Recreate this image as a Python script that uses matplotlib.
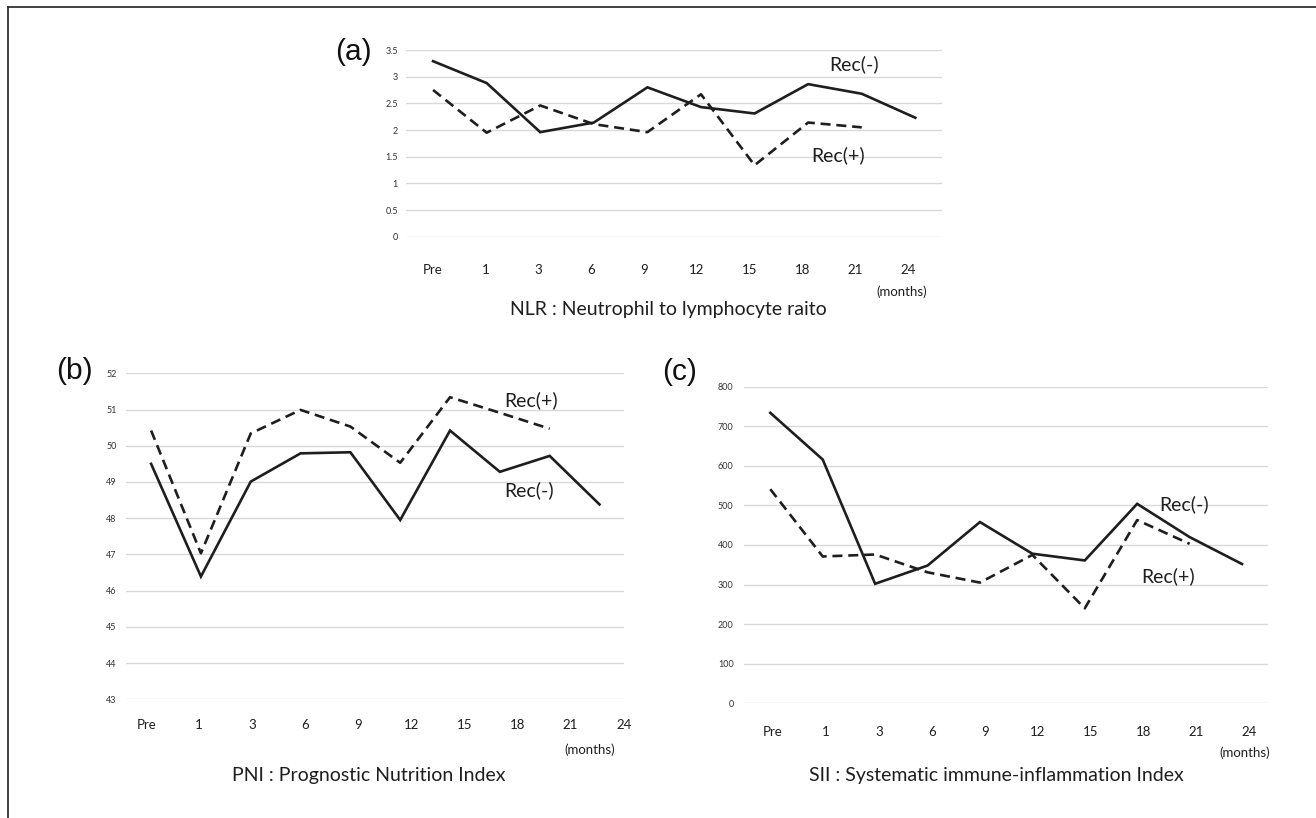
import numpy as np
import matplotlib
matplotlib.use("Agg")
import matplotlib.pyplot as plt
from matplotlib.lines import Line2D

W, H = 1316, 818

# ---------------- data ----------------
months = ["Pre", "1", "3", "6", "9", "12", "15", "18", "21", "24"]

nlr_rec_neg = [3.29, 2.88, 1.96, 2.14, 2.80, 2.43, 2.31, 2.86, 2.68, 2.23]
nlr_rec_pos = [2.75, 1.95, 2.46, 2.11, 1.96, 2.67, 1.34, 2.14, 2.05]

pni_rec_neg = [49.50, 46.39, 49.01, 49.79, 49.82, 47.95, 50.42, 49.28, 49.72, 48.38]
pni_rec_pos = [50.42, 47.03, 50.34, 50.99, 50.53, 49.53, 51.34, 50.91, 50.47]

sii_rec_neg = [734, 616, 302, 348, 458, 378, 361, 504, 420, 352]
sii_rec_pos = [541, 371, 376, 331, 305, 375, 240, 463, 403]

nlr_yticks = [0, 0.5, 1, 1.5, 2, 2.5, 3, 3.5]
nlr_ylabels = ["0", "0.5", "1", "1.5", "2", "2.5", "3", "3.5"]
pni_yticks = [43, 44, 45, 46, 47, 48, 49, 50, 51, 52]
sii_yticks = [0, 100, 200, 300, 400, 500, 600, 700, 800]

titles = ["NLR : Neutrophil to lymphocyte raito",
          "PNI : Prognostic Nutrition Index",
          "SII : Systematic immune-inflammation Index"]
panel_tags = ["(a)", "(b)", "(c)"]

# ---------------- style ----------------
LINE_C = "#1e1e1e"
GRID_C = "#d9d9d9"
TXT_C = "#1e1e1e"
FONT = ["Lato", "DejaVu Sans"]
TAGFONT = ["Liberation Sans", "DejaVu Sans"]

fig = plt.figure(figsize=(W / 100, H / 100), dpi=100)
fig.patch.set_facecolor("white")


def fx(px):
    return px / W


def fy(py):
    return 1 - py / H


def make_ax(left, top, right, bottom):
    return fig.add_axes([fx(left), fy(bottom), fx(right) - fx(left), fy(top) - fy(bottom)])


def style_ax(ax, yticks, ylabels, ylim, xt_off, xt_scale, xpad, ypad):
    n = len(months)
    ax.set_xlim(-0.5, n - 0.5)
    ax.set_ylim(*ylim)
    ax.set_yticks(yticks)
    ax.set_yticklabels(ylabels, fontsize=6.5, family=FONT, color="#333333")
    ax.set_xticks(xt_off + xt_scale * np.arange(n))
    ax.set_xticklabels(months, fontsize=9.5, family=FONT, color=TXT_C)
    ax.tick_params(axis="both", length=0)
    ax.tick_params(axis="x", pad=xpad)
    ax.tick_params(axis="y", pad=ypad)
    for s in ax.spines.values():
        s.set_visible(False)
    ax.grid(axis="y", color=GRID_C, linewidth=1.0)
    ax.grid(axis="x", visible=False)
    ax.set_axisbelow(True)
    ax.patch.set_alpha(0)


def draw_lines(ax, neg, pos):
    ax.plot(np.arange(len(neg)), neg, color=LINE_C, lw=1.9,
            solid_joinstyle="miter", clip_on=False, zorder=3)
    ax.plot(np.arange(len(pos)), pos, color=LINE_C, lw=1.9,
            linestyle=(0, (3.8, 2.2)), clip_on=False, zorder=3)


REC_FS = 14

# ---------------- (a) NLR ----------------
ax_a = make_ax(406.3, 50.0, 942.1, 236.7)
style_ax(ax_a, nlr_yticks, nlr_ylabels, (0, 3.5), 0.0, 0.985, 20, 6)
draw_lines(ax_a, nlr_rec_neg, nlr_rec_pos)
ax_a.text(7.85, 3.23, "Rec(-)", fontsize=REC_FS, family=FONT, color=TXT_C, ha="center", va="center")
ax_a.text(7.55, 1.52, "Rec(+)", fontsize=REC_FS, family=FONT, color=TXT_C, ha="center", va="center")

# ---------------- (b) PNI ----------------
ax_b = make_ax(126.2, 373.3, 624.4, 699.3)
style_ax(ax_b, pni_yticks, [str(v) for v in pni_yticks], (43, 52), -0.1, 1.065, 14, 7)
draw_lines(ax_b, pni_rec_neg, pni_rec_pos)
ax_b.text(7.63, 51.26, "Rec(+)", fontsize=REC_FS, family=FONT, color=TXT_C, ha="center", va="center")
ax_b.text(7.59, 48.78, "Rec(-)", fontsize=REC_FS, family=FONT, color=TXT_C, ha="center", va="center")

# ---------------- (c) SII ----------------
ax_c = make_ax(744.1, 386.7, 1268.2, 703.3)
style_ax(ax_c, sii_yticks, [str(v) for v in sii_yticks], (0, 800), 0.05, 1.01, 16.7, 7.6)
draw_lines(ax_c, sii_rec_neg, sii_rec_pos)
ax_c.text(7.89, 503.6, "Rec(-)", fontsize=REC_FS, family=FONT, color=TXT_C, ha="center", va="center")
ax_c.text(7.58, 322.4, "Rec(+)", fontsize=REC_FS, family=FONT, color=TXT_C, ha="center", va="center")

# ---------------- figure texts ----------------
for (px, py), t in zip([(353.6, 52.0), (74.6, 371.0), (679.5, 372.0)], panel_tags):
    fig.text(fx(px), fy(py), t, fontsize=21.5, family=TAGFONT, color="#111111",
             ha="center", va="center")

for (px, py), t in zip([(668.7, 310.0), (368.5, 775.0), (996.5, 775.0)], titles):
    fig.text(fx(px), fy(py), t, fontsize=14, family=FONT, color=TXT_C,
             ha="center", va="center")

for (px, py) in [(902.0, 291.7), (589.6, 750.0), (1245.0, 753.0)]:
    fig.text(fx(px), fy(py), "(months)", fontsize=9.5, family=FONT, color=TXT_C,
             ha="center", va="center")

# outer frame (top and left edges visible)
fig.add_artist(Line2D([fx(7.5), fx(7.5)], [0, fy(6.5)], transform=fig.transFigure,
                      color="#333333", lw=1.3))
fig.add_artist(Line2D([fx(7.5), 1], [fy(6.5), fy(6.5)], transform=fig.transFigure,
                      color="#333333", lw=1.3))

fig.savefig("out.png", dpi=100, facecolor="white")
